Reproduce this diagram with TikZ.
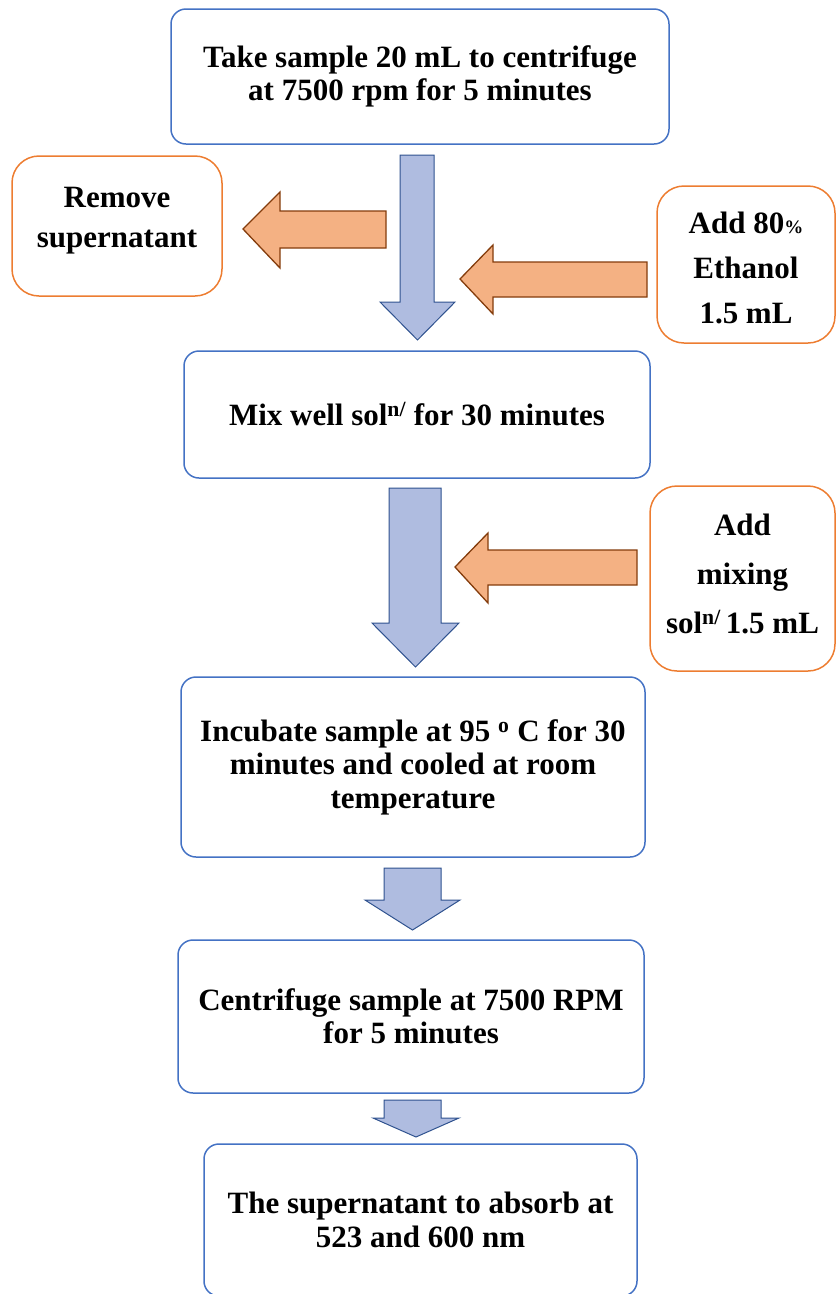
\documentclass[tikz,border=0pt]{standalone}
\usepackage{fontspec}
\setmainfont{Liberation Serif}
\definecolor{boxblue}{HTML}{4472C4}
\definecolor{boxorange}{HTML}{ED7D31}
\definecolor{arrowblue}{HTML}{AFBCE0}
\definecolor{arrowblueline}{HTML}{2F528F}
\definecolor{arroworange}{HTML}{F4B183}
\definecolor{arrowbrown}{HTML}{843C0C}
\tikzset{
  boxtext/.style={align=center, inner sep=0pt,
    font=\bfseries\fontsize{31}{33.5}\selectfont},
  stepbox/.style={boxtext, draw=boxblue, line width=1.5pt, rounded corners=15pt},
  addbox/.style={draw=boxorange, line width=1.5pt, rounded corners=27pt, inner sep=0pt},
  addtext/.style={align=center, inner sep=0pt,
    font=\bfseries\fontsize{31}{#1}\selectfont},
  downblock/.style={fill=arrowblue, draw=arrowblueline, line width=1pt, line join=miter},
  leftblock/.style={fill=arroworange, draw=arrowbrown, line width=1.3pt, line join=miter}
}
\begin{document}
\begin{tikzpicture}[x=1pt, y=-1pt]
\useasboundingbox (0,0) rectangle (836,1294);

% process steps
\node[stepbox, minimum width=498pt, minimum height=135pt] (take) at (420,76.5)
  {Take sample 20 mL to centrifuge\\at 7500 rpm for 5 minutes};
\node[stepbox, minimum width=466pt, minimum height=127pt] (mix) at (417,414.5)
  {Mix well sol\textsuperscript{n/} for 30 minutes};
\node[stepbox, minimum width=464pt, minimum height=180pt] (incubate) at (413,767)
  {Incubate sample at 95 \textsuperscript{o} C for 30\\minutes and cooled at room\\temperature};
\node[stepbox, minimum width=466pt, minimum height=153pt] (centrifuge) at (411,1016.5)
  {Centrifuge sample at 7500 RPM\\for 5 minutes};
\node[stepbox, minimum width=433pt, minimum height=152pt] (absorb) at (420.5,1220)
  {The supernatant to absorb at\\523 and 600 nm};

% side actions
\node[addbox, minimum width=210pt, minimum height=140pt,
  label={[addtext=40, yshift=5pt]center:Remove\\supernatant}] (remove) at (117,226) {};
\node[addbox, minimum width=178pt, minimum height=157pt,
  label={[addtext=45, yshift=-3pt]center:Add 80{\fontsize{19}{20}\selectfont\%}\\Ethanol\\1.5 mL}]
  (ethanol) at (746,264.5) {};
\node[addbox, minimum width=185pt, minimum height=185pt,
  label={[addtext=49, yshift=5pt]center:Add\\mixing\\sol\textsuperscript{n/}\,1.5 mL}]
  (mixsol) at (742.5,578.5) {};

% downward block arrows
\draw[downblock] (400,155) -- (434,155) -- (434,302) -- (455,302) -- (417.5,340)
  -- (380,302) -- (400,302) -- cycle;
\draw[downblock] (389,488) -- (441,488) -- (441,623) -- (459,623) -- (415.5,667)
  -- (372,623) -- (389,623) -- cycle;
\draw[downblock] (384,868) -- (441,868) -- (441,900) -- (460,900) -- (412.5,930)
  -- (365,900) -- (384,900) -- cycle;
\draw[downblock] (384,1100) -- (441,1100) -- (441,1118) -- (459,1118) -- (416,1137)
  -- (373,1118) -- (384,1118) -- cycle;

% leftward block arrows
\draw[leftblock] (386,211) -- (386,248) -- (280,248) -- (280,268) -- (243,229)
  -- (280,192) -- (280,211) -- cycle;
\draw[leftblock] (647,262) -- (647,297) -- (493,297) -- (493,314) -- (460,279)
  -- (493,245) -- (493,262) -- cycle;
\draw[leftblock] (637,550) -- (637,585) -- (488,585) -- (488,603) -- (455,567)
  -- (488,533) -- (488,550) -- cycle;
\end{tikzpicture}
\end{document}
